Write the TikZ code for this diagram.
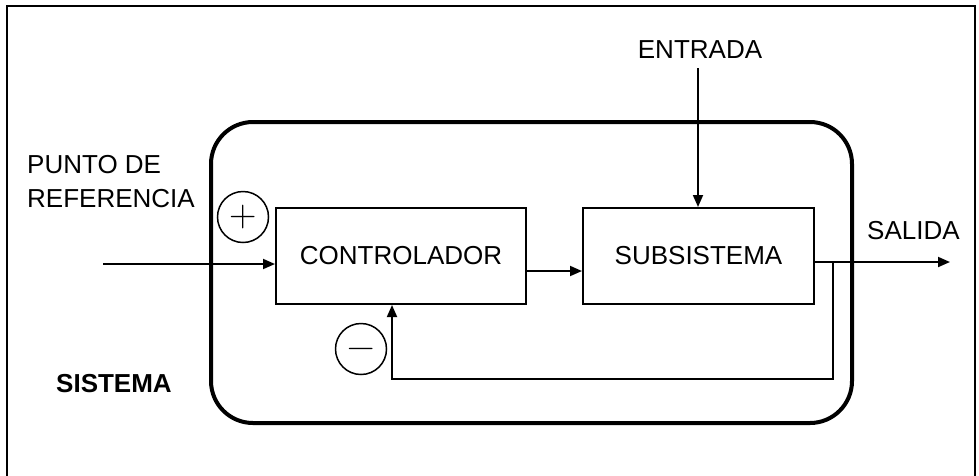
\documentclass[tikz,border=0pt]{standalone}
\usepackage{fontspec}
\setmainfont{Liberation Sans}
\newfontfamily\lmfont{Latin Modern Roman}
\usetikzlibrary{arrows.meta}
\tikzset{
  lbl/.style={inner sep=0pt, font=\fontsize{26}{34}\selectfont},
  blockbox/.style={draw, line width=2pt, minimum width=250pt, minimum height=96pt, inner sep=0pt, font=\fontsize{26}{34}\selectfont},
  sign/.style={draw, circle, line width=1.5pt, minimum size=51pt, inner sep=0pt, text height=19pt, text depth=0pt, font=\lmfont\fontsize{38}{38}\selectfont},
  conn/.style={line width=1.8pt, -{Triangle[length=12pt,width=10pt]}},
  plainline/.style={line width=1.8pt}
}
\begin{document}
\begin{tikzpicture}[x=1pt,y=-1pt]
\useasboundingbox (0,0) rectangle (979,475);
% outer frame
\draw[line width=2pt] (7,476) -- (7,6) -- (975,6) -- (975,476);
% system container
\draw[line width=4pt, rounded corners=42pt] (211,122) rectangle (852,423);
% blocks
\node[blockbox, minimum width=250pt] (ctrl) at (401,256) {CONTROLADOR};
\node[blockbox, minimum width=231pt] (sub) at (698.5,256) {SUBSISTEMA};
% labels
\node[lbl, anchor=base west, align=left] (ref) at (27,207.3) {PUNTO DE\\REFERENCIA};
\node[lbl, anchor=base] (ent) at (700,58.3) {ENTRADA};
\node[lbl, anchor=base west] (sal) at (867,239.3) {SALIDA};
\node[lbl, anchor=base west, font=\fontsize{26}{34}\selectfont\bfseries] (sis) at (56,392.3) {SISTEMA};
% signs
\node[sign] (plus) at (243,217) {+};
\node[sign] (minus) at (361,349) {−};
% coordinates
\coordinate (inStart) at (103,264);
\coordinate (entStart) at (698,68);
\coordinate (midY) at (0,271);
\coordinate (outY) at (0,262);
\coordinate (outEnd) at (950,262);
\coordinate (fbA) at (833,262);
\coordinate (fbB) at (833,379);
\coordinate (fbC) at (392,379);
% connectors
\draw[conn] (inStart) -- (ctrl.west |- inStart);
\draw[conn] (ctrl.east |- midY) -- (sub.west |- midY);
\draw[conn] (entStart) -- (entStart |- sub.north);
\draw[conn] (sub.east |- outY) -- (outEnd);
\draw[conn] (fbA) -- (fbB) -- (fbC) -- (fbC |- ctrl.south);
\end{tikzpicture}
\end{document}
